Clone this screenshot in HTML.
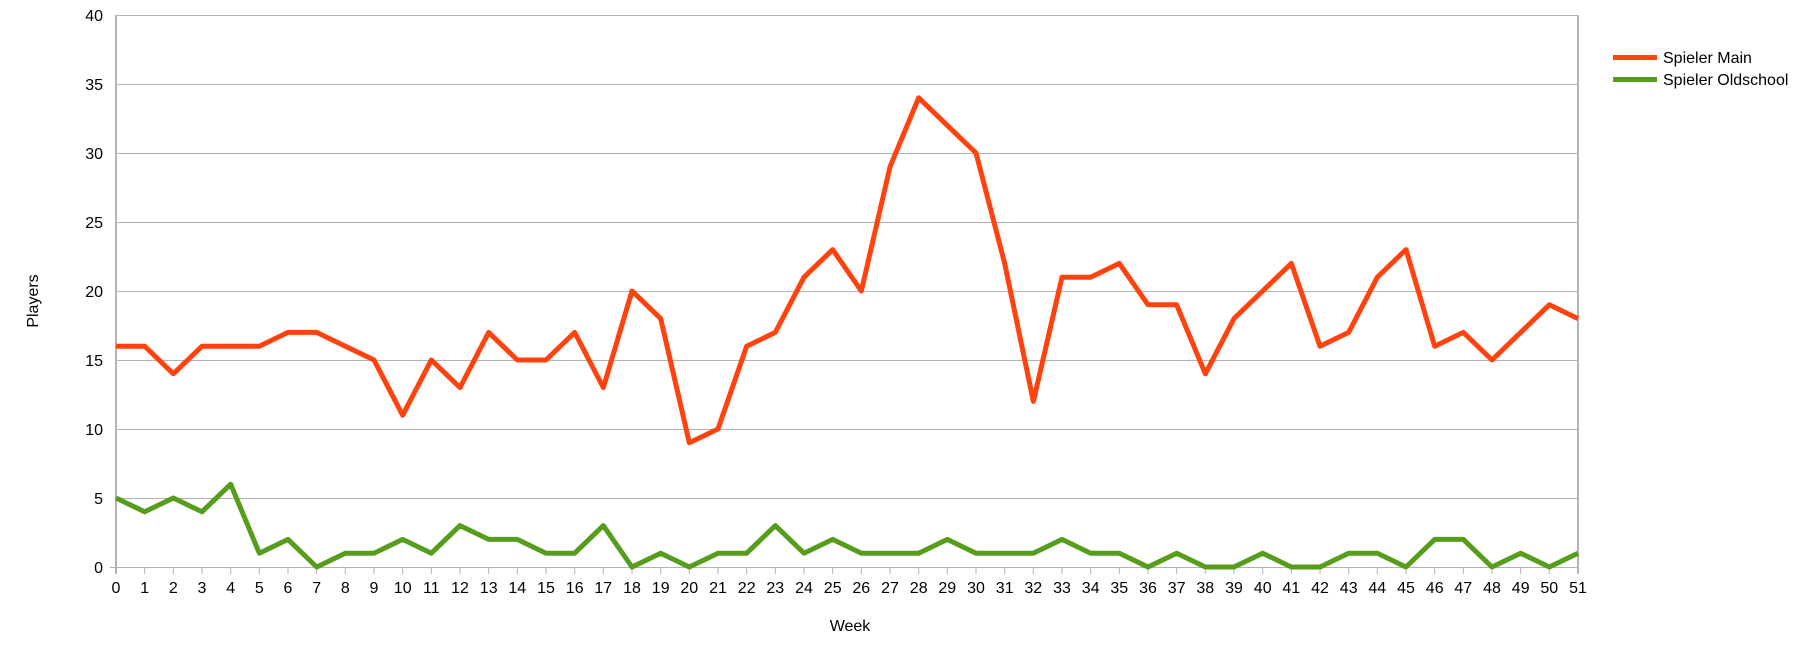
<!DOCTYPE html>
<html><head><meta charset="utf-8"><style>html,body{margin:0;padding:0;background:#fff}svg{display:block}text{font-family:"Liberation Sans",sans-serif;font-size:16px;fill:#000}</style></head>
<body>
<svg width="1806" height="656" viewBox="0 0 1806 656" xmlns="http://www.w3.org/2000/svg">
<g stroke="#b3b3b3" stroke-width="1">
<line x1="116" y1="15.5" x2="1578" y2="15.5"/>
<line x1="116" y1="84.5" x2="1578" y2="84.5"/>
<line x1="116" y1="153.5" x2="1578" y2="153.5"/>
<line x1="116" y1="222.5" x2="1578" y2="222.5"/>
<line x1="116" y1="291.5" x2="1578" y2="291.5"/>
<line x1="116" y1="360.5" x2="1578" y2="360.5"/>
<line x1="116" y1="429.5" x2="1578" y2="429.5"/>
<line x1="116" y1="498.5" x2="1578" y2="498.5"/>
<line x1="110" y1="567.5" x2="1578" y2="567.5"/>
</g>
<g stroke="#b3b3b3" stroke-width="2"><line x1="116" y1="15" x2="116" y2="574"/><line x1="1578" y1="15" x2="1578" y2="574"/></g>
<g stroke="#b3b3b3" stroke-width="1" transform="translate(116,0) scale(28.6667,1)">
<path vector-effect="non-scaling-stroke" d="M1 567V574M2 567V574M3 567V574M4 567V574M5 567V574M6 567V574M7 567V574M8 567V574M9 567V574M10 567V574M11 567V574M12 567V574M13 567V574M14 567V574M15 567V574M16 567V574M17 567V574M18 567V574M19 567V574M20 567V574M21 567V574M22 567V574M23 567V574M24 567V574M25 567V574M26 567V574M27 567V574M28 567V574M29 567V574M30 567V574M31 567V574M32 567V574M33 567V574M34 567V574M35 567V574M36 567V574M37 567V574M38 567V574M39 567V574M40 567V574M41 567V574M42 567V574M43 567V574M44 567V574M45 567V574M46 567V574M47 567V574M48 567V574M49 567V574M50 567V574"/>
</g>
<g transform="translate(116,567) scale(28.6667,-13.8)" fill="none" stroke-width="5" stroke-linejoin="round">
<polyline vector-effect="non-scaling-stroke" stroke="#ff420e" points="0,16 1,16 2,14 3,16 4,16 5,16 6,17 7,17 8,16 9,15 10,11 11,15 12,13 13,17 14,15 15,15 16,17 17,13 18,20 19,18 20,9 21,10 22,16 23,17 24,21 25,23 26,20 27,29 28,34 29,32 30,30 31,22 32,12 33,21 34,21 35,22 36,19 37,19 38,14 39,18 40,20 41,22 42,16 43,17 44,21 45,23 46,16 47,17 48,15 49,17 50,19 51,18"/>
<polyline vector-effect="non-scaling-stroke" stroke="#579d1c" points="0,5 1,4 2,5 3,4 4,6 5,1 6,2 7,0 8,1 9,1 10,2 11,1 12,3 13,2 14,2 15,1 16,1 17,3 18,0 19,1 20,0 21,1 22,1 23,3 24,1 25,2 26,1 27,1 28,1 29,2 30,1 31,1 32,1 33,2 34,1 35,1 36,0 37,1 38,0 39,0 40,1 41,0 42,0 43,1 44,1 45,0 46,2 47,2 48,0 49,1 50,0 51,1"/>
</g>
<g text-anchor="end">
<text x="103" y="21">40</text><text x="103" y="90">35</text><text x="103" y="159">30</text><text x="103" y="228">25</text><text x="103" y="297">20</text><text x="103" y="366">15</text><text x="103" y="435">10</text><text x="103" y="504">5</text><text x="103" y="573">0</text>
</g>
<g text-anchor="middle">
<text x="116" y="593">0</text><text x="144.7" y="593">1</text><text x="173.3" y="593">2</text><text x="202" y="593">3</text><text x="230.7" y="593">4</text><text x="259.3" y="593">5</text><text x="288" y="593">6</text><text x="316.7" y="593">7</text><text x="345.3" y="593">8</text><text x="374" y="593">9</text><text x="402.7" y="593">10</text><text x="431.3" y="593">11</text><text x="460" y="593">12</text><text x="488.7" y="593">13</text><text x="517.3" y="593">14</text><text x="546" y="593">15</text><text x="574.7" y="593">16</text><text x="603.3" y="593">17</text><text x="632" y="593">18</text><text x="660.7" y="593">19</text><text x="689.3" y="593">20</text><text x="718" y="593">21</text><text x="746.7" y="593">22</text><text x="775.3" y="593">23</text><text x="804" y="593">24</text><text x="832.7" y="593">25</text><text x="861.3" y="593">26</text><text x="890" y="593">27</text><text x="918.7" y="593">28</text><text x="947.3" y="593">29</text><text x="976" y="593">30</text><text x="1004.7" y="593">31</text><text x="1033.3" y="593">32</text><text x="1062" y="593">33</text><text x="1090.7" y="593">34</text><text x="1119.3" y="593">35</text><text x="1148" y="593">36</text><text x="1176.7" y="593">37</text><text x="1205.3" y="593">38</text><text x="1234" y="593">39</text><text x="1262.7" y="593">40</text><text x="1291.3" y="593">41</text><text x="1320" y="593">42</text><text x="1348.7" y="593">43</text><text x="1377.3" y="593">44</text><text x="1406" y="593">45</text><text x="1434.7" y="593">46</text><text x="1463.3" y="593">47</text><text x="1492" y="593">48</text><text x="1520.7" y="593">49</text><text x="1549.3" y="593">50</text><text x="1578" y="593">51</text>
<text x="850" y="631">Week</text>
<text x="0" y="0" transform="translate(38,301) rotate(-90)">Players</text>
</g>
<line x1="1613" y1="57.5" x2="1657" y2="57.5" stroke="#ff420e" stroke-width="5"/>
<line x1="1613" y1="79.5" x2="1657" y2="79.5" stroke="#579d1c" stroke-width="5"/>
<text x="1663" y="63">Spieler Main</text>
<text x="1663" y="85">Spieler Oldschool</text>
</svg>
</body></html>
